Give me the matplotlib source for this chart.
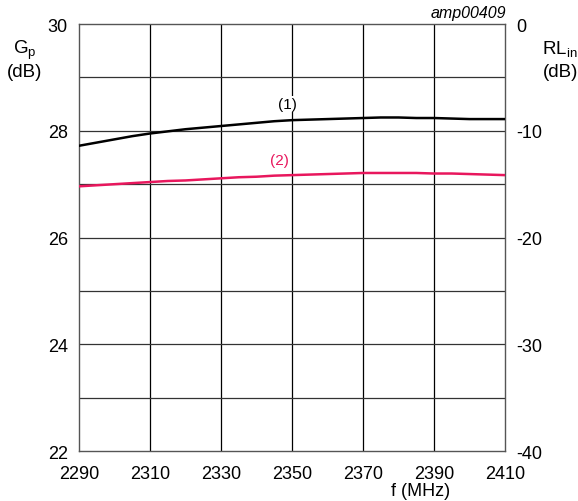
import matplotlib.pyplot as plt
import numpy as np

plt.rcParams['font.family'] = ['Liberation Sans', 'DejaVu Sans']

# frecuencias (MHz) y valores
freq = [2290, 2295, 2300, 2305, 2310, 2315, 2320, 2325, 2330, 2335, 2340, 2345, 2350,
        2355, 2360, 2365, 2370, 2375, 2380, 2385, 2390, 2395, 2400, 2405, 2410]
gp1 = [27.72, 27.78, 27.84, 27.90, 27.95, 27.99, 28.03, 28.06, 28.09, 28.12, 28.15, 28.18, 28.20,
       28.21, 28.22, 28.23, 28.24, 28.25, 28.25, 28.24, 28.24, 28.23, 28.22, 28.22, 28.22]
gp2 = [26.96, 26.98, 27.00, 27.02, 27.04, 27.06, 27.07, 27.09, 27.11, 27.13, 27.14, 27.16, 27.17,
       27.18, 27.19, 27.20, 27.21, 27.21, 27.21, 27.21, 27.20, 27.20, 27.19, 27.18, 27.17]

xticks = [2290, 2310, 2330, 2350, 2370, 2390, 2410]
yticks = [22, 24, 26, 28, 30]
rticks = [-40, -30, -20, -10, 0]
rlabels = ['-40', '-30', '-20', '-10', '0']

rosa = '#e8175d'
gris = '#333333'

fig = plt.figure(figsize=(5.78, 5.02), dpi=100)
ax = fig.add_axes([0.1367, 0.0996, 0.7370, 0.8504])

# rejilla
for x in xticks[1:-1]:
    ax.axvline(x, color='black', lw=0.9, zorder=1)
for y in range(23, 30):
    ax.axhline(y, color=gris, lw=0.9, zorder=1)

ax.plot(freq, gp1, color='black', lw=1.8, zorder=3)
ax.plot(freq, gp2, color=rosa, lw=1.8, zorder=3)

ax.set_xlim(2290, 2410)
ax.set_ylim(22, 30)
ax.set_xticks(xticks)
ax.set_yticks(yticks)
ax.tick_params(axis='y', length=0, labelsize=13, pad=8)
ax.tick_params(axis='x', length=0, labelsize=13, pad=10)
for s in ax.spines.values():
    s.set_color('#555555')
    s.set_linewidth(1.0)

ax2 = ax.twinx()
ax2.set_ylim(-40, 0)
ax2.set_yticks(rticks)
ax2.set_yticklabels(rlabels)
ax2.tick_params(length=0, labelsize=13, pad=8)
for s in ax2.spines.values():
    s.set_visible(False)

# etiquetas de las curvas
ax.text(2348.6, 28.5, '(1)', fontsize=11, ha='center', va='center', color='black',
        bbox=dict(facecolor='white', edgecolor='none', pad=0.5), zorder=4)
ax.text(2346.6, 27.45, '(2)', fontsize=11, ha='center', va='center', color=rosa,
        bbox=dict(facecolor='white', edgecolor='none', pad=0.5), zorder=4)

fig.text(0.043, 0.900, 'G$_\\mathregular{p}$', fontsize=13.5, ha='center', va='center')
fig.text(0.043, 0.855, '(dB)', fontsize=13.5, ha='center', va='center')
fig.text(0.969, 0.900, 'RL$_\\mathregular{in}$', fontsize=13.5, ha='center', va='center')
fig.text(0.969, 0.855, '(dB)', fontsize=13.5, ha='center', va='center')
fig.text(0.876, 0.964, 'amp00409', fontsize=11.5, ha='right', va='baseline', style='italic')
fig.text(0.728, 0.004, 'f (MHz)', fontsize=13, ha='center', va='bottom')

fig.savefig('out.png', dpi=100)
